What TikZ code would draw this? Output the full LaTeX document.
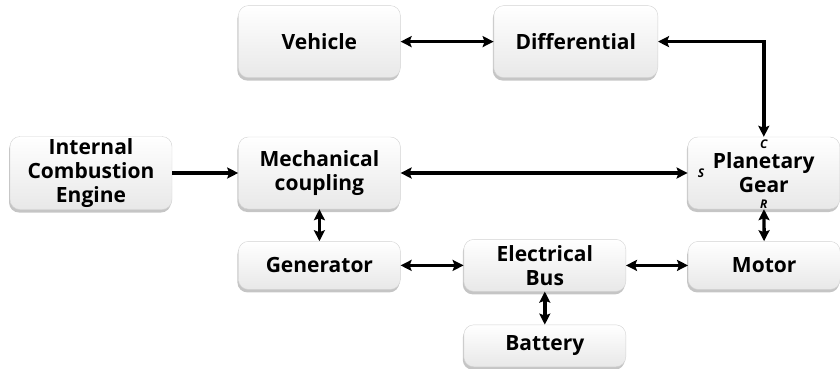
\documentclass[tikz,border=0pt]{standalone}
\usepackage{fontspec}
\setmainfont{Open Sans}
\usepackage{tikz}
\usetikzlibrary{arrows.meta, positioning, shadows}
\definecolor{boxedge}{RGB}{210,210,210}
\definecolor{boxshade}{RGB}{232,232,232}
\definecolor{shadowgray}{RGB}{140,140,140}

\begin{document}
\begin{tikzpicture}[
    x=1pt, y=-1pt,
    node distance=60pt,
    block/.style={rectangle, draw=boxedge, top color=white, bottom color=boxshade, rounded corners=10pt, minimum width=162pt, minimum height=72pt, font=\fontsize{21}{24}\selectfont\bfseries, align=center, inner sep=2pt,
        drop shadow={shadow xshift=-1pt, shadow yshift=-3pt, fill=shadowgray, opacity=0.5}},
    smallblock/.style={block, minimum height=48pt},
    tip/.style={Stealth[length=11pt, width=11pt, inset=2pt]},
    arrow/.style={-{Stealth[length=11pt, width=11pt, inset=2pt]}, line width=3.4pt, draw=black},
    biarrow/.style={arrow, {Stealth[length=11pt, width=11pt, inset=2pt]}-{Stealth[length=11pt, width=11pt, inset=2pt]}},
    port/.style={font=\fontsize{12}{13}\selectfont\bfseries\itshape, inner sep=1pt}
]
\useasboundingbox (0,0) rectangle (840,368);

\node[block] (ice) at (91,173) {Internal\\Combustion\\Engine};
\node[block, right=66pt of ice] (mc) {Mechanical\\coupling};
\node[block, above=59pt of mc] (veh) {Vehicle};
\node[block, right=93pt of veh, minimum width=164pt] (diff) {Differential};
\node[block, right=287pt of mc, minimum width=152pt] (pg) {Planetary\\Gear};
\node[smallblock, below=32pt of mc] (gen) {Generator};
\node[smallblock, right=63pt of gen, minimum height=52pt] (bus) {Electrical\\Bus};
\node[smallblock, right=62pt of bus, minimum width=152pt] (motor) {Motor};
\node[smallblock, below=33pt of bus, minimum height=42pt] (bat) {Battery};

% gear ports
\node[port, below=2pt of pg.north] (c) {C};
\node[port, above=0pt of pg.south] (r) {R};
\node[port, right=9pt of pg.west] (s) {S};

\draw[arrow] (ice) -- (mc);
\draw[biarrow] (veh) -- (diff);
\draw[biarrow] (mc) -- (pg);
\draw[biarrow] (pg.north) |- (diff.east);
\draw[biarrow] (mc) -- (gen);
\draw[biarrow] (gen) -- (bus);
\draw[biarrow] (bus) -- (motor);
\draw[biarrow] (pg) -- (motor);
\draw[biarrow] (bus) -- (bat);
\end{tikzpicture}
\end{document}
